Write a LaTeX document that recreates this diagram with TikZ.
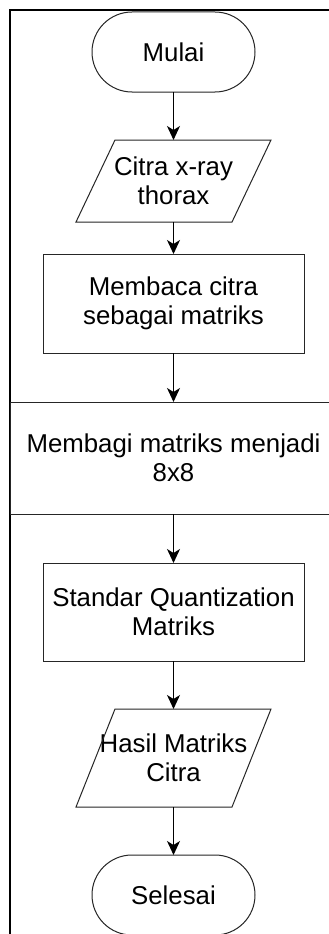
\documentclass[tikz,border=0pt]{standalone}
\usepackage{fontspec}
\setmainfont{Liberation Sans}
\usetikzlibrary{arrows.meta}

\tikzset{
  shapeline/.style={draw=black!85, line width=1pt},
  lbl/.style={inner sep=0pt, outer sep=0pt, align=center,
    font=\fontsize{25.8}{29}\selectfont},
  terminal/.style={lbl, shapeline, rounded corners=40pt,
    minimum width=163pt, minimum height=80pt},
  process/.style={lbl, shapeline, minimum width=261pt, minimum height=99pt},
  iobox/.style={lbl, minimum width=195pt},
  flow/.style={draw=black, line width=1.1pt,
    -{Stealth[length=14pt, width=13pt, inset=4pt]}},
}

\begin{document}
\begin{tikzpicture}[x=1pt, y=-1pt]
  \useasboundingbox (0,0) rectangle (329,934);
  \clip (0,0) rectangle (329,934);
  \fill[white] (0,0) rectangle (329,934);

  % page frame
  \draw[line width=2.2pt, black] (10,10) rectangle (345,950);

  % flowchart steps
  \node[terminal] (start) at (173.5,52) {Mulai};

  \node[iobox, minimum height=82pt] (in1) at (173.5,181) {Citra x-ray\\thorax};
  \draw[shapeline] (in1.south west) -- ([xshift=-39pt]in1.south east)
    -- (in1.north east) -- ([xshift=39pt]in1.north west) -- cycle;

  \node[process] (read) at (173.5,303.5) {Membaca citra\\sebagai matriks};

  \node[process, minimum width=326pt, minimum height=112pt] (split)
    at (173.5,458) {Membagi matriks menjadi\\8x8};

  \node[process, minimum height=98pt] (quant) at (173.5,612)
    {Standar Quantization\\Matriks};

  \node[iobox, minimum height=98pt] (out1) at (173.5,758) {Hasil Matriks\\Citra};
  \draw[shapeline] (out1.south west) -- ([xshift=-39pt]out1.south east)
    -- (out1.north east) -- ([xshift=39pt]out1.north west) -- cycle;

  \node[terminal] (stop) at (173.5,895) {Selesai};

  % connectors
  \draw[flow] (start) -- (in1);
  \draw[flow] (in1) -- (read);
  \draw[flow] (read) -- (split);
  \draw[flow] (split) -- (quant);
  \draw[flow] (quant) -- (out1);
  \draw[flow] (out1) -- (stop);
\end{tikzpicture}
\end{document}
